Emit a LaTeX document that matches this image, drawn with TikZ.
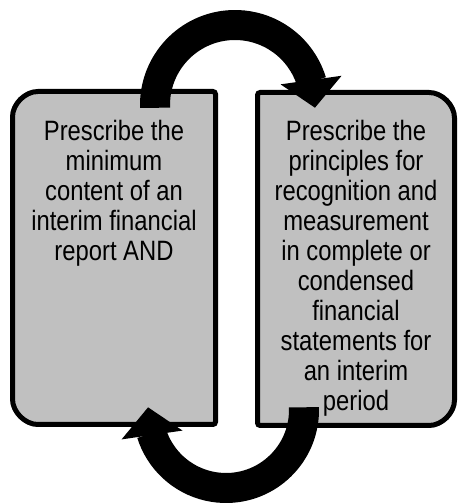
\documentclass[tikz,border=0pt]{standalone}
\usepackage{fontspec}
\setmainfont{Liberation Sans}[FakeStretch=0.85]
\usepackage{xcolor}
\usetikzlibrary{arrows.meta, bending, positioning}
\definecolor{panelgray}{RGB}{192,192,192}

\begin{document}
\begin{tikzpicture}[x=0.75pt, y=0.75pt,
    panel/.style={draw=black, fill=panelgray, line width=3.75pt, rounded corners=2pt},
    paneltext/.style={anchor=north, align=center, inner sep=0pt,
                      font=\fontsize{21}{22.5}\selectfont},
    bigarrow/.style={line width=22.5pt, -{Triangle[width=45pt, length=21pt, flex]}}]

    % =================================================================
    % 1. FRAME OF THE PICTURE
    % =================================================================
    \useasboundingbox (0,0) rectangle (458,503);

    % =================================================================
    % 2. THE TWO PANELS
    % =================================================================
    % Left panel (round corners on the left side)
    \filldraw[panel] (215.5,411.5) -- (40.5,411.5)
        arc[start angle=90, end angle=180, radius=28] -- (12.5,106.5)
        arc[start angle=180, end angle=270, radius=28] -- (215.5,78.5) -- cycle;

    % Right panel (round corners on the right side)
    \filldraw[panel] (257.5,410.5) -- (426.5,410.5)
        arc[start angle=90, end angle=0, radius=28] -- (454.5,105.5)
        arc[start angle=0, end angle=-90, radius=28] -- (257.5,77.5) -- cycle;

    % =================================================================
    % 3. TEXTS OF THE PANELS
    % =================================================================
    \node[paneltext] (LeftText) at (114,383) {Prescribe the\\ minimum\\ content of an\\
        interim financial\\ report AND};
    \node[paneltext] (RightText) at (356,383) {Prescribe the\\ principles for\\
        recognition and\\ measurement\\ in complete or\\ condensed\\ financial\\
        statements for\\ an interim\\ period};

    % =================================================================
    % 4. THE TWO CIRCULAR ARROWS
    % =================================================================
    \coordinate (TopHub) at (235,398);
    \coordinate (BottomHub) at (226,93);

    % Upper arrow: from the left panel to the right panel
    \draw[bigarrow] (TopHub) ++(182:80) arc[start angle=182, end angle=-2, radius=80];

    % Lower arrow: from the right panel back to the left panel
    \draw[bigarrow] (BottomHub) ++(2:78) arc[start angle=2, end angle=-182, radius=78];

\end{tikzpicture}
\end{document}
